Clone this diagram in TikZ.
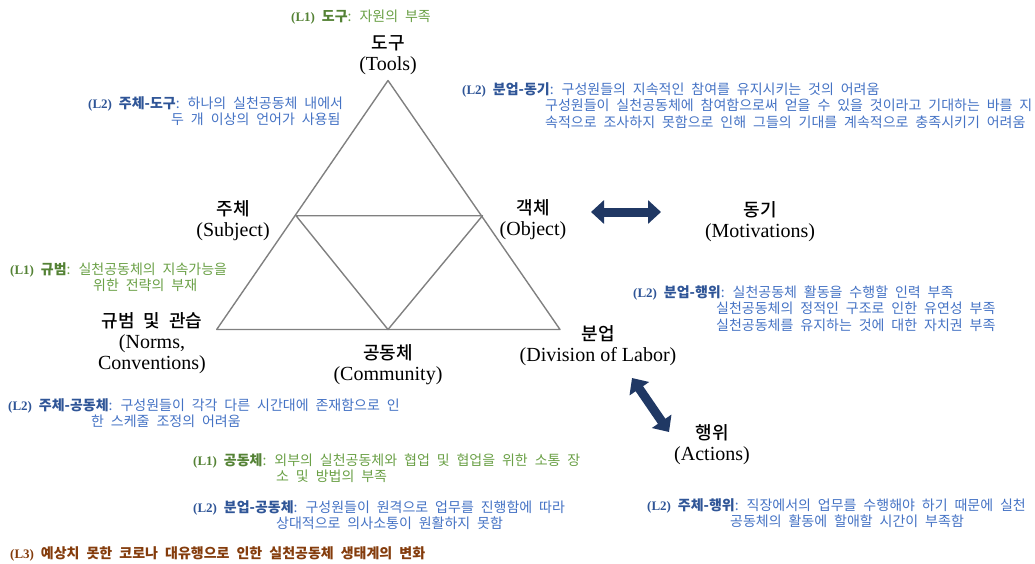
\documentclass[tikz,border=0pt]{standalone}
\usepackage{fontspec}
\setmainfont{Liberation Serif}
\newfontfamily\kr[WordSpace=2.2]{Noto Sans CJK KR}
\newfontfamily\krh[WordSpace=2.2]{Noto Sans CJK KR Medium}
\usetikzlibrary{arrows.meta}

\definecolor{lonegreen}{RGB}{84,130,53}
\definecolor{lonebody}{RGB}{106,160,70}
\definecolor{ltwoblue}{RGB}{47,85,151}
\definecolor{ltwobody}{RGB}{68,114,196}
\definecolor{lthreebrown}{RGB}{132,60,12}
\definecolor{arrownavy}{RGB}{32,56,100}
\definecolor{edgegray}{RGB}{128,128,128}

% level tag: serif bold "(Lx)" followed by bold Korean key
\newcommand{\lev}[3]{{\color{#1}{\rmfamily\bfseries\fontsize{13}{16.5}\selectfont #2} {\bfseries #3}}}
% Korean line of a heading
\newcommand{\kh}[1]{{\krh\fontsize{18}{21}\selectfont #1}}

\begin{document}
\begin{tikzpicture}[
    x=1pt, y=-1pt,
    % Define styles
    tri/.style={
        edgegray,
        line width=1.4pt,
        line join=round
    },
    heading/.style={
        align=center,
        inner sep=0pt,
        font=\fontsize{20}{21}\selectfont
    },
    ann/.style={
        anchor=north west,
        inner sep=0pt,
        align=left,
        font=\kr\fontsize{14}{16.5}\selectfont
    },
    lone/.style={ann, text=lonebody},
    ltwo/.style={ann, text=ltwobody},
    lthree/.style={ann, text=lthreebrown},
    blockarrow/.style={
        arrownavy,
        line width=9pt,
        {Triangle[width=23pt,length=13pt]}-{Triangle[width=23pt,length=13pt]}
    }
]
    \useasboundingbox (0,0) rectangle (1035,564);

    % --- Triangle corners ---
    \coordinate (T) at (388,80.5);
    \coordinate (N) at (216.7,329.5);
    \coordinate (D) at (560,329.5);
    \coordinate (S) at (296,215.7);
    \coordinate (O) at (482.5,215.7);
    \coordinate (C) at (388,329.5);

    \draw[tri] (T) -- (N) -- (D) -- cycle;
    \draw[tri] (S) -- (O) -- (C) -- cycle;

    % --- Headings ---
    \node[heading] (tools) at (388,55) {\kh{도구}\\(Tools)};
    \node[heading] (subject) at (233,220.5) {\kh{주체}\\(Subject)};
    \node[heading] (object) at (533,219.5) {\kh{객체}\\(Object)};
    \node[heading] (motiv) at (760,221.5) {\kh{동기}\\(Motivations)};
    \node[heading] (norms) at (152,343.5) {\kh{규범 및 관습}\\(Norms,\\Conventions)};
    \node[heading] (community) at (388,365) {\kh{공동체}\\(Community)};
    \node[heading] (division) at (598,346) {\kh{분업}\\(Division of Labor)};
    \node[heading] (actions) at (712,445) {\kh{행위}\\(Actions)};

    % --- Block arrows ---
    \coordinate (objarrow) at (591,212);
    \coordinate (motarrow) at (661,212);
    \coordinate (divarrow) at (632,378);
    \coordinate (actarrow) at (669,432);
    \draw[blockarrow] (objarrow) -- (motarrow);
    \draw[blockarrow] (divarrow) -- (actarrow);

    % --- Annotations ---
    \node[lone] (lonetools) at (291,10) {\lev{lonegreen}{(L1)}{도구}: 자원의 부족};
    \node[ltwo] (ltwosubtools) at (88,96) {\lev{ltwoblue}{(L2)}{주체-도구}: 하나의 실천공동체 내에서\\
        \hspace*{83pt}두 개 이상의 언어가 사용됨};
    \node[ltwo] (ltwodivmot) at (462,82) {\lev{ltwoblue}{(L2)}{분업-동기}: 구성원들의 지속적인 참여를 유지시키는 것의 어려움\\
        \hspace*{83pt}구성원들이 실천공동체에 참여함으로써 얻을 수 있을 것이라고 기대하는 바를 지\\
        \hspace*{83pt}속적으로 조사하지 못함으로 인해 그들의 기대를 계속적으로 충족시키기 어려움};
    \node[lone] (lonenorms) at (10,262) {\lev{lonegreen}{(L1)}{규범}: 실천공동체의 지속가능을\\
        \hspace*{83pt}위한 전략의 부재};
    \node[ltwo] (ltwodivact) at (633,285) {\lev{ltwoblue}{(L2)}{분업-행위}: 실천공동체 활동을 수행할 인력 부족\\
        \hspace*{83pt}실천공동체의 정적인 구조로 인한 유연성 부족\\
        \hspace*{83pt}실천공동체를 유지하는 것에 대한 자치권 부족};
    \node[ltwo] (ltwosubcom) at (8,398) {\lev{ltwoblue}{(L2)}{주체-공동체}: 구성원들이 각각 다른 시간대에 존재함으로 인\\
        \hspace*{83pt}한 스케줄 조정의 어려움};
    \node[lone] (lonecom) at (193,453) {\lev{lonegreen}{(L1)}{공동체}: 외부의 실천공동체와 협업 및 협업을 위한 소통 장\\
        \hspace*{83pt}소 및 방법의 부족};
    \node[ltwo] (ltwodivcom) at (193,500) {\lev{ltwoblue}{(L2)}{분업-공동체}: 구성원들이 원격으로 업무를 진행함에 따라\\
        \hspace*{83pt}상대적으로 의사소통이 원활하지 못함};
    \node[ltwo] (ltwosubact) at (647,498) {\lev{ltwoblue}{(L2)}{주체-행위}: 직장에서의 업무를 수행해야 하기 때문에 실천\\
        \hspace*{83pt}공동체의 활동에 할애할 시간이 부족함};
    \node[lthree] (lthree) at (10,546) {\lev{lthreebrown}{(L3)}{예상치 못한 코로나 대유행으로 인한 실천공동체 생태계의 변화}};

\end{tikzpicture}
\end{document}
